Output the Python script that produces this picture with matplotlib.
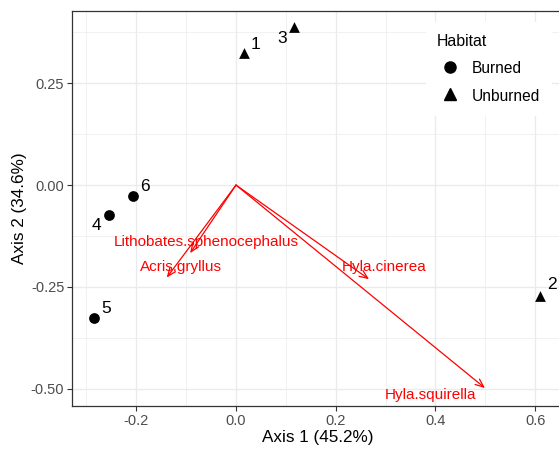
import numpy as np
import matplotlib
matplotlib.use("Agg")
import matplotlib.pyplot as plt
from matplotlib.lines import Line2D

# site scores (PCoA axes)
sites = ["1", "2", "3", "4", "5", "6"]
axis1 = [0.016, 0.610, 0.116, -0.255, -0.285, -0.207]
axis2 = [0.324, -0.272, 0.388, -0.073, -0.326, -0.026]
habitat = ["Unburned", "Unburned", "Unburned", "Burned", "Burned", "Burned"]

# species vectors
species = ["Acris.gryllus", "Hyla.cinerea", "Hyla.squirella", "Lithobates.sphenocephalus"]
sp_x = [-0.139, 0.267, 0.4995, -0.092]
sp_y = [-0.227, -0.231, -0.498, -0.167]

habitats = ["Burned", "Unburned"]
markers = {"Burned": "o", "Unburned": "^"}

# label placement (pixel offsets from the point, repel-like)
site_off = {"1": (12, 8), "2": (12, 11), "3": (-12, -12), "4": (-12, -11), "5": (12, 9), "6": (12, 9)}
# species label centres in data units
sp_lab_x = [-0.111, 0.2965, 0.391, -0.060]
sp_lab_y = [-0.201, -0.201, -0.516, -0.139]

plt.rcParams['font.family'] = ['Liberation Sans', 'DejaVu Sans']

fig = plt.figure(figsize=(5.59, 4.49), dpi=100)
ax = fig.add_axes([72 / 559, 1 - 406 / 449, 491 / 559, 395 / 449])

ax.set_xlim(-0.329, 0.656)
ax.set_ylim(-0.542, 0.427)

xt = [-0.2, 0.0, 0.2, 0.4, 0.6]
yt = [-0.5, -0.25, 0.0, 0.25]
ax.set_xticks(xt)
ax.set_xticklabels(["-0.2", "0.0", "0.2", "0.4", "0.6"])
ax.set_yticks(yt)
ax.set_yticklabels(["-0.50", "-0.25", "0.00", "0.25"])
ax.set_xticks([-0.3, -0.1, 0.1, 0.3, 0.5], minor=True)
ax.set_yticks([-0.375, -0.125, 0.125, 0.375], minor=True)
ax.grid(which='major', color='#EBEBEB', lw=1.0, zorder=0)
ax.grid(which='minor', color='#EBEBEB', lw=0.5, zorder=0)
ax.set_axisbelow(True)
ax.tick_params(which='major', length=3.5, width=0.8, color='#333333',
               labelcolor='#4D4D4D', labelsize=10.5, pad=2)
ax.tick_params(which='minor', length=0)
for s in ax.spines.values():
    s.set_color('#333333')
    s.set_linewidth(0.9)

ax.set_xlabel("Axis 1 (45.2%)", fontsize=12.3, labelpad=2)
ax.set_ylabel("Axis 2 (34.6%)", fontsize=12.3, labelpad=3)

# arrows
for i in range(len(species)):
    ax.annotate("", xy=(sp_x[i], sp_y[i]), xytext=(0, 0),
                arrowprops=dict(arrowstyle="->,head_length=0.6,head_width=0.25",
                                color='red', lw=0.9, shrinkA=0, shrinkB=0))
    ax.text(sp_lab_x[i], sp_lab_y[i], species[i], color='red', fontsize=11,
            ha='center', va='center')

# sites
for h in habitats:
    idx = [i for i in range(len(sites)) if habitat[i] == h]
    ax.scatter([axis1[i] for i in idx], [axis2[i] for i in idx],
               marker=markers[h], s=60, color='black', zorder=3, linewidths=0)

for i, lab in enumerate(sites):
    ax.annotate(lab, (axis1[i], axis2[i]), xytext=site_off[lab],
                textcoords='offset pixels', fontsize=12.5, ha='center', va='center')

handles = [Line2D([], [], marker=markers[h], color='black', ls='none', markersize=8)
           for h in habitats]
leg = ax.legend(handles, habitats, title="Habitat", loc='upper left',
                bbox_to_anchor=(425.5 / 559, 1 - 22 / 449), bbox_transform=fig.transFigure,
                frameon=True, fontsize=11.2, title_fontsize=11.4, alignment='left',
                handlelength=1.7, handleheight=1.25, handletextpad=0.55,
                labelspacing=0.72, borderpad=0.75, borderaxespad=0)
leg.get_frame().set_facecolor('white')
leg.get_frame().set_edgecolor('none')
leg.get_frame().set_alpha(1)

fig.savefig("out.png", dpi=100)
